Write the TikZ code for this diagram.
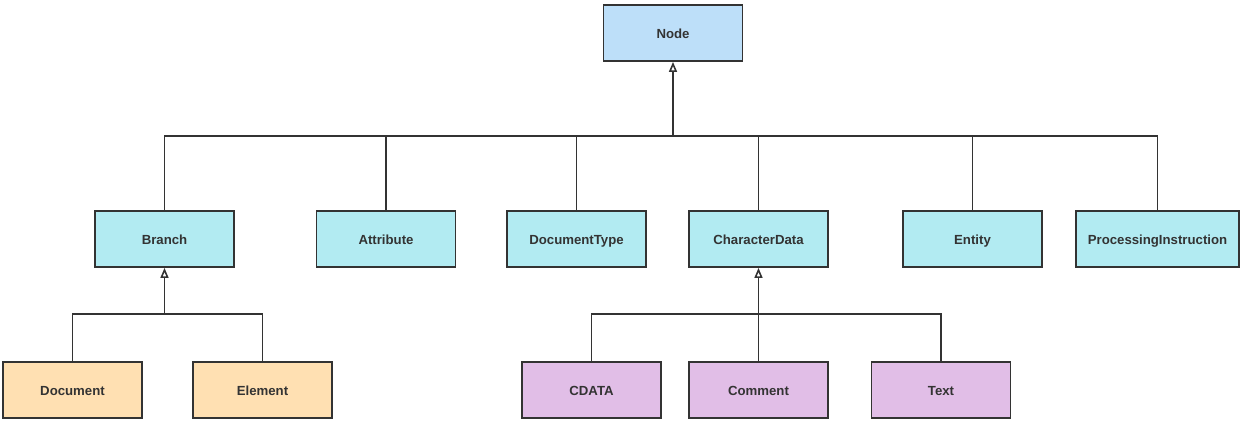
\documentclass[tikz,border=0pt]{standalone}
\usepackage{fontspec}
\setmainfont{Liberation Sans}
\usetikzlibrary{arrows.meta}
\definecolor{cnode}{HTML}{BDDFF9}
\definecolor{ctwo}{HTML}{B2EBF2}
\definecolor{corange}{HTML}{FFE0B2}
\definecolor{cpurple}{HTML}{E1BEE7}
\definecolor{cline}{HTML}{333333}
\begin{document}
\begin{tikzpicture}[x=1pt,y=-1pt,
  box/.style={draw=cline,line width=1.8pt,minimum width=139pt,minimum height=56pt,inner sep=0pt,text height=11pt,text depth=0.5pt,font=\bfseries\fontsize{13.2}{15}\selectfont,text=cline},
  wire/.style={draw=cline,line width=1.8pt},
  inh/.style={wire,-{Triangle[open,length=10pt,width=8pt,line width=1.6pt]}}]
\useasboundingbox (0,0) rectangle (1245,428);
\node[box,fill=cnode] (node) at (673,33) {Node};
\node[box,fill=ctwo] (branch) at (164.5,239) {Branch};
\node[box,fill=ctwo] (attr) at (386,239) {Attribute};
\node[box,fill=ctwo] (doctype) at (576.5,239) {DocumentType};
\node[box,fill=ctwo] (chardata) at (758.5,239) {CharacterData};
\node[box,fill=ctwo] (entity) at (972.5,239) {Entity};
\node[box,fill=ctwo,minimum width=163pt] (pi) at (1157.5,239) {ProcessingInstruction};
\node[box,fill=corange] (doc) at (72.5,390) {Document};
\node[box,fill=corange] (elem) at (262.5,390) {Element};
\node[box,fill=cpurple] (cdata) at (591.5,390) {CDATA};
\node[box,fill=cpurple] (comment) at (758.5,390) {Comment};
\node[box,fill=cpurple] (text) at (941,390) {Text};
\coordinate (j1) at (673,136);
\coordinate (j2) at (164.5,314);
\coordinate (j3) at (758.5,314);
\draw[inh] (j1) -- (node.south);
\draw[inh] (j2) -- (branch.south);
\draw[inh] (j3) -- (chardata.south);
\foreach \n in {branch,attr,doctype,chardata,entity,pi}
  \draw[wire] (\n.north) |- (j1);
\foreach \n in {doc,elem}
  \draw[wire] (\n.north) |- (j2);
\foreach \n in {cdata,comment,text}
  \draw[wire] (\n.north) |- (j3);
\end{tikzpicture}
\end{document}
